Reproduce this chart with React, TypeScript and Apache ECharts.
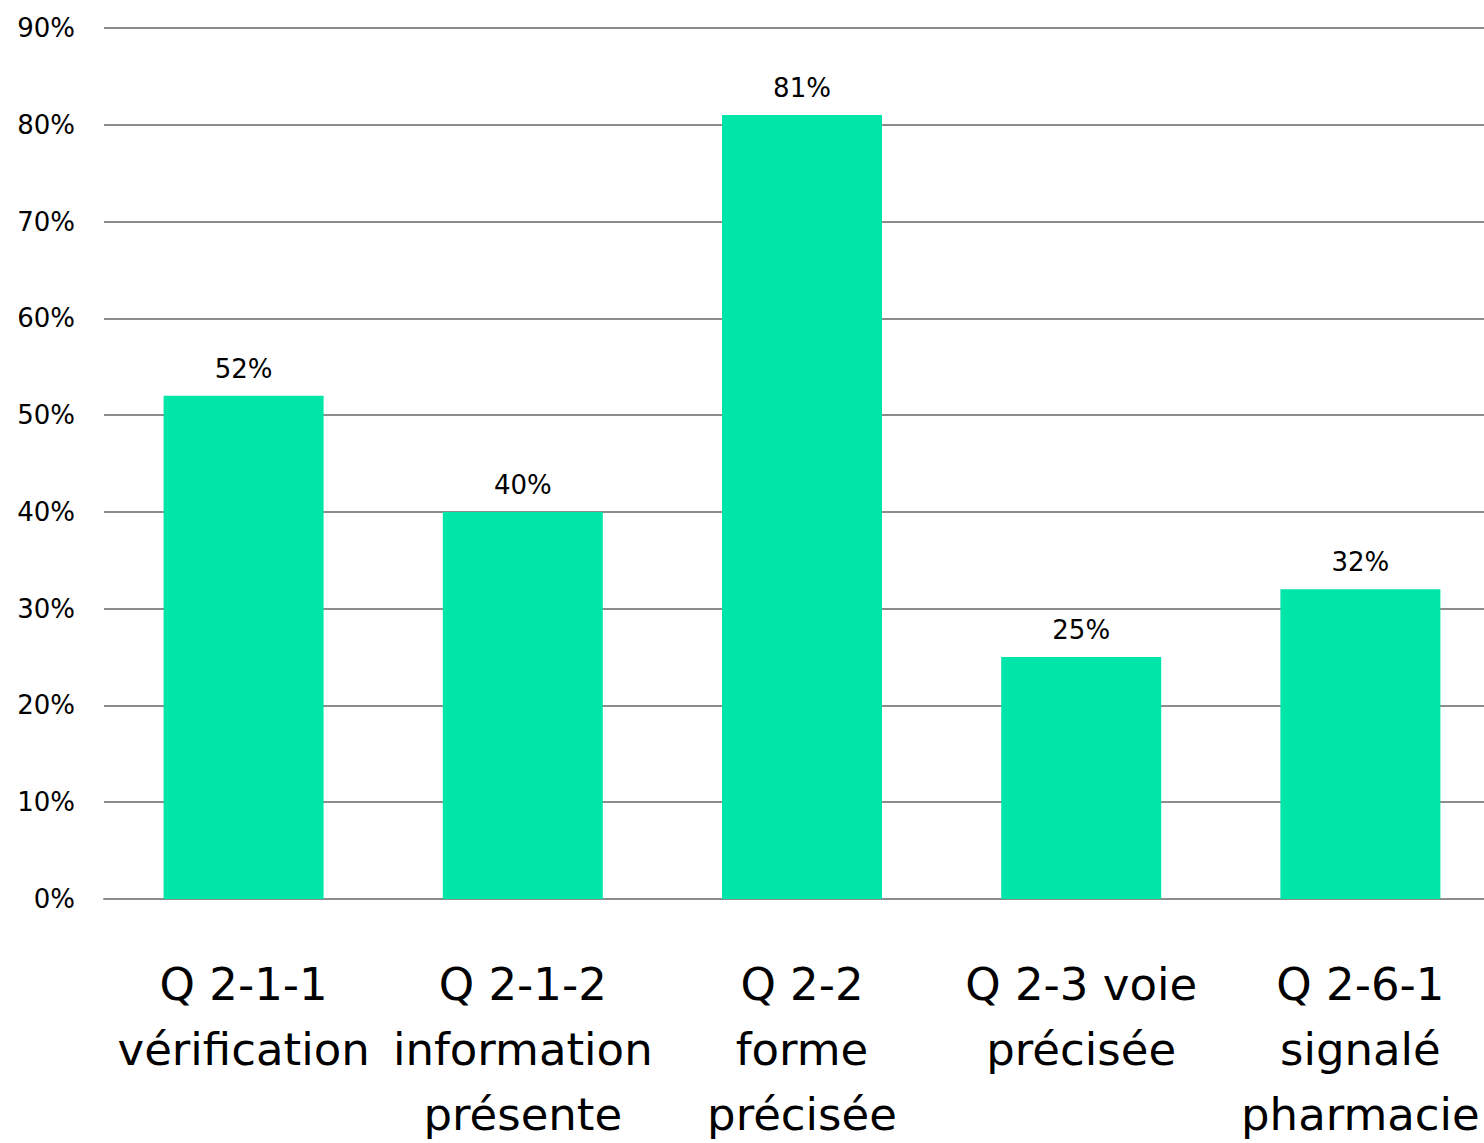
import React, { useEffect, useRef } from "react";
import * as echarts from "echarts";

const categories = [
  "Q 2-1-1\nvérification",
  "Q 2-1-2\ninformation\nprésente",
  "Q 2-2\nforme\nprécisée",
  "Q 2-3 voie\nprécisée",
  "Q 2-6-1\nsignalé\npharmacie",
];
const values = [52, 40, 81, 25, 32];
const yMin = 0;
const yMax = 90;
const yInterval = 10;

export default function App() {
  const ref = useRef<HTMLDivElement>(null);
  useEffect(() => {
    if (!ref.current) return;
    const chart = echarts.init(ref.current, undefined, { renderer: "svg" });
    chart.setOption({
      animation: false,
      backgroundColor: "#ffffff",
      grid: {
        left: 104,
        right: -16,
        top: 28,
        bottom: 244,
        containLabel: false,
        outerBoundsMode: "none",
      },
      xAxis: {
        type: "category",
        data: categories,
        axisLine: { show: true, lineStyle: { color: "#8c8c8c", width: 2 } },
        axisTick: { show: false },
        axisLabel: {
          interval: 0,
          margin: 53,
          color: "#000000",
          fontFamily: "DejaVu Sans",
          fontSize: 45,
          lineHeight: 65,
          verticalAlign: "top",
        },
      },
      yAxis: {
        type: "value",
        min: yMin,
        max: yMax,
        interval: yInterval,
        axisLine: { show: false },
        axisTick: { show: false },
        splitLine: { lineStyle: { color: "#8c8c8c", width: 2 } },
        axisLabel: {
          formatter: "{value}%",
          margin: 29,
          color: "#000000",
          fontFamily: "DejaVu Sans",
          fontSize: 26,
        },
      },
      series: [
        {
          type: "bar",
          data: values,
          barWidth: 160,
          itemStyle: { color: "#00E5A8" },
          label: {
            show: true,
            position: "top",
            distance: 14,
            formatter: "{c}%",
            color: "#000000",
            fontFamily: "DejaVu Sans",
            fontSize: 26,
          },
        },
      ],
    });
    return () => chart.dispose();
  }, []);
  return (
    <div
      ref={ref}
      style={{ position: "absolute", left: 0, top: 0, width: 1484, height: 1143 }}
    />
  );
}
